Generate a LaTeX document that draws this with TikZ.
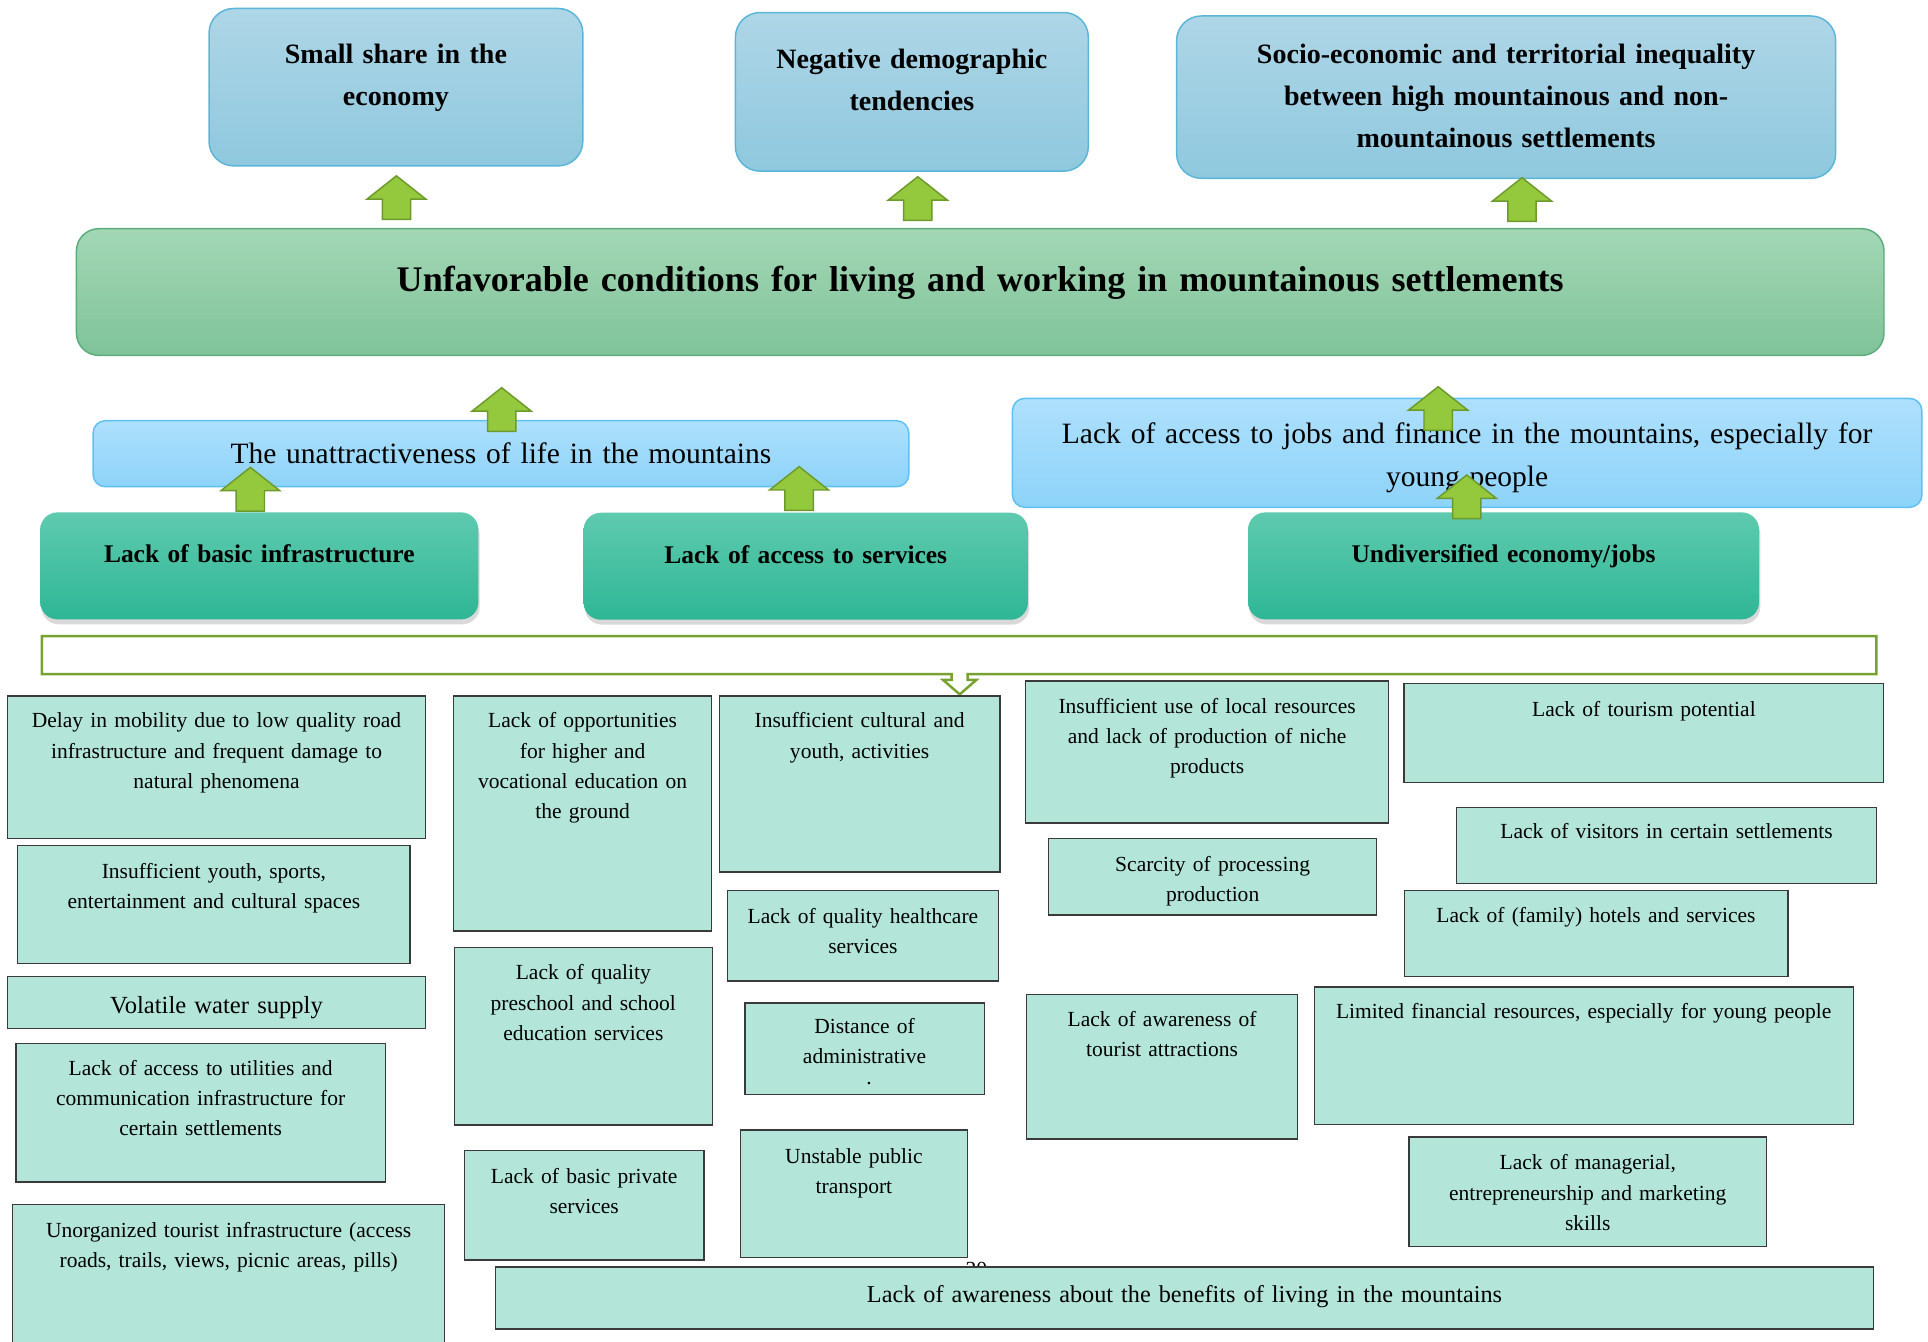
\documentclass[tikz,border=0pt]{standalone}
\usepackage{fontspec}
\setmainfont{Liberation Serif}
\usetikzlibrary{shadows}

\definecolor{topboxtop}{HTML}{AED6E7}
\definecolor{topboxbot}{HTML}{8FC8DE}
\definecolor{topboxline}{HTML}{5AB6D8}
\definecolor{mainboxtop}{HTML}{A3D7B5}
\definecolor{mainboxbot}{HTML}{7FC399}
\definecolor{mainboxline}{HTML}{5BAE7C}
\definecolor{midboxtop}{HTML}{AEE0FC}
\definecolor{midboxbot}{HTML}{8DD3F9}
\definecolor{midboxline}{HTML}{5DC1F3}
\definecolor{catboxtop}{HTML}{5FCAAF}
\definecolor{catboxbot}{HTML}{2EB795}
\definecolor{smallfill}{HTML}{B3E6D9}
\definecolor{smallline}{HTML}{3A3A3A}
\definecolor{arrowfill}{HTML}{94C83D}
\definecolor{arrowline}{HTML}{6E9A2B}
\definecolor{bracketline}{HTML}{77A22F}

\tikzset{
  topbox/.style={draw=topboxline, line width=1.2pt, rounded corners=20pt,
    top color=topboxtop, bottom color=topboxbot, inner sep=0pt},
  mainbox/.style={draw=mainboxline, line width=1.2pt, rounded corners=18pt,
    top color=mainboxtop, bottom color=mainboxbot, inner sep=0pt},
  midbox/.style={draw=midboxline, line width=1.2pt, rounded corners=10pt,
    top color=midboxtop, bottom color=midboxbot, inner sep=0pt},
  catbox/.style={rounded corners=14pt, top color=catboxtop, bottom color=catboxbot,
    inner sep=0pt, drop shadow={shadow xshift=1pt, shadow yshift=-4pt, opacity=0.3}},
  smallbox/.style={draw=smallline, line width=1pt, fill=smallfill, inner sep=0pt},
  stext/.style={text width=560pt, align=center, anchor=base, inner sep=0pt,
    font=\fontsize{17.5}{24.5}\selectfont},
  bigstext/.style={stext, text width=1100pt, font=\fontsize{19.7}{24.5}\selectfont},
  toptext/.style={stext, font=\bfseries\fontsize{22.8}{34}\selectfont},
  maintext/.style={stext, text width=1400pt, font=\bfseries\fontsize{29.3}{36}\selectfont},
  midtext/.style={stext, text width=740pt, font=\fontsize{24}{34.8}\selectfont},
  cattext/.style={stext, font=\bfseries\fontsize{20.7}{25}\selectfont},
  uparrow/.pic={
    \draw[draw=arrowline, fill=arrowfill, line width=1.2pt]
      (0,0) -- (24,19) -- (11.5,19) -- (11.5,35.5) -- (-11.5,35.5)
      -- (-11.5,19) -- (-24,19) -- cycle;
  }
}

\begin{document}
\begin{tikzpicture}[x=1pt, y=-1pt]
  \useasboundingbox (0,0) rectangle (1568,1091);
  \clip (0,0) rectangle (1568,1091);

  % consequences
  \node[topbox, minimum width=304, minimum height=128] (share) at (322,70.9) {};
  \node[toptext] (sharetext) at (322,52) {Small share in the\\economy};
  \node[topbox, minimum width=287, minimum height=129] (demo) at (741.6,74.7) {};
  \node[toptext] (demotext) at (741.6,56) {Negative demographic\\tendencies};
  \node[topbox, minimum width=536, minimum height=132] (inequal) at (1224.9,79) {};
  \node[toptext] (inequaltext) at (1224.9,52) {Socio-economic and territorial inequality\\between high mountainous and non-\\mountainous settlements};

  % central problem
  \node[mainbox, minimum width=1470, minimum height=103] (main) at (797.2,237.5) {};
  \node[maintext] (maintext) at (797.2,237) {Unfavorable conditions for living and working in mountainous settlements};

  % intermediate causes
  \node[midbox, minimum width=663.4, minimum height=53.7] (unattr) at (407.4,369) {};
  \node[midtext] (unattrtext) at (407.4,376.8) {The unattractiveness of life in the mountains};
  \node[midbox, minimum width=739.6, minimum height=88.6] (jobs) at (1193.2,368.3) {};
  \node[midtext] (jobstext) at (1193.2,360.5) {Lack of access to jobs and finance in the mountains, especially for\\young people};

  % cause groups
  \node[catbox, minimum width=356.3, minimum height=87] (infra) at (210.9,460.2) {};
  \node[cattext] (infratext) at (210.9,457.6) {Lack of basic infrastructure};
  \node[catbox, minimum width=361.4, minimum height=87] (serv) at (655.3,460.5) {};
  \node[cattext] (servtext) at (655.3,458) {Lack of access to services};
  \node[catbox, minimum width=415.6, minimum height=87] (econ) at (1222.8,460.2) {};
  \node[cattext] (econtext) at (1222.8,457.6) {Undiversified economy/jobs};

  % bracket
  \draw[draw=bracketline, line width=2pt, fill=white]
    (34,517.3) -- (1526,517.3) -- (1526,548.2) -- (787,548.2) -- (787,553)
    -- (794,553) -- (780.5,564.7) -- (767,553) -- (774,553) -- (774,548.2)
    -- (34,548.2) -- cycle;

  % infrastructure
  \node[smallbox, minimum width=339.8, minimum height=115.8] (mobility) at (176.1,623.9) {};
  \node[stext] (mobilitytext) at (176.1,592) {Delay in mobility due to low quality road\\infrastructure and frequent damage to\\natural phenomena};
  \node[smallbox, minimum width=319, minimum height=95.8] (spaces) at (174,735.6) {};
  \node[stext] (spacestext) at (174,714.3) {Insufficient youth, sports,\\entertainment and cultural spaces};
  \node[smallbox, minimum width=339.8, minimum height=42] (water) at (176.1,815.3) {};
  \node[stext, font=\fontsize{20}{24.5}\selectfont] (watertext) at (176.1,824) {Volatile water supply};
  \node[smallbox, minimum width=300.3, minimum height=112.8] (util) at (163.2,904.9) {};
  \node[stext] (utiltext) at (163.2,874.8) {Lack of access to utilities and\\communication infrastructure for\\certain settlements};
  \node[smallbox, minimum width=351.1, minimum height=140] (tourinfra) at (186,1049.5) {};
  \node[stext] (tourinfratext) at (186,1006.5) {Unorganized tourist infrastructure (access\\roads, trails, views, picnic areas, pills)};

  % services
  \node[smallbox, minimum width=210, minimum height=191.2] (higher) at (473.8,661.6) {};
  \node[stext] (highertext) at (473.8,592) {Lack of opportunities\\for higher and\\vocational education on\\the ground};
  \node[smallbox, minimum width=210.1, minimum height=144.6] (school) at (474.4,842.7) {};
  \node[stext] (schooltext) at (474.4,797) {Lack of quality\\preschool and school\\education services};
  \node[smallbox, minimum width=195, minimum height=88.9] (private) at (475.1,980.3) {};
  \node[stext] (privatetext) at (475.1,962.4) {Lack of basic private\\services};
  \node[smallbox, minimum width=228.2, minimum height=143.2] (culture) at (699.1,637.6) {};
  \node[stext] (culturetext) at (699.1,592) {Insufficient cultural and\\youth, activities};
  \node[smallbox, minimum width=220.9, minimum height=73.5] (health) at (701.8,761.1) {};
  \node[stext] (healthtext) at (701.8,751) {Lack of quality healthcare\\services};
  \node[smallbox, minimum width=194.5, minimum height=74.6] (admin) at (703.1,853) {};
  \node[stext] (admintext) at (703.1,840.4) {Distance of\\administrative};
  \node[stext] (admindot) at (706.8,882) {.};
  \node[smallbox, minimum width=184.6, minimum height=103.6] (transport) at (694.5,970.8) {};
  \node[stext] (transporttext) at (694.5,946.1) {Unstable public\\transport};

  % page number behind the last box
  \node[stext] (pagenum) at (794,1038) {20};
  \node[smallbox, minimum width=1120.5, minimum height=50.4] (aware) at (963.3,1055.6) {};
  \node[bigstext] (awaretext) at (963.3,1059) {Lack of awareness about the benefits of living in the mountains};

  % economy
  \node[smallbox, minimum width=295.3, minimum height=115.4] (local) at (981.7,611.6) {};
  \node[stext] (localtext) at (981.7,580) {Insufficient use of local resources\\and lack of production of niche\\products};
  \node[smallbox, minimum width=266.8, minimum height=62.4] (process) at (986.2,713) {};
  \node[stext] (processtext) at (986.2,708.9) {Scarcity of processing\\production};
  \node[smallbox, minimum width=220.2, minimum height=117.3] (attract) at (945.1,867.7) {};
  \node[stext] (attracttext) at (945.1,835) {Lack of awareness of\\tourist attractions};
  \node[smallbox, minimum width=390.2, minimum height=80.8] (tourism) at (1337,596.1) {};
  \node[stext] (tourismtext) at (1337,582.9) {Lack of tourism potential};
  \node[smallbox, minimum width=341.5, minimum height=61.8] (visitors) at (1355.3,687.5) {};
  \node[stext] (visitorstext) at (1355.3,681.8) {Lack of visitors in certain settlements};
  \node[smallbox, minimum width=312.1, minimum height=69.9] (hotels) at (1298,759.4) {};
  \node[stext] (hotelstext) at (1298,750.4) {Lack of (family) hotels and services};
  \node[smallbox, minimum width=438.3, minimum height=112] (finance) at (1288,858.7) {};
  \node[stext] (financetext) at (1288,828.2) {Limited financial resources, especially for young people};
  \node[smallbox, minimum width=290.7, minimum height=89.2] (skills) at (1291.3,969.3) {};
  \node[stext] (skillstext) at (1291.3,951.5) {Lack of managerial,\\entrepreneurship and marketing\\skills};

  % block arrows
  \pic at (322.4,143) {uparrow};
  \pic at (746.4,143.7) {uparrow};
  \pic at (1237.8,144.5) {uparrow};
  \pic at (408,315.3) {uparrow};
  \pic at (1169.6,314.5) {uparrow};
  \pic at (203.6,380.1) {uparrow};
  \pic at (649.9,379.5) {uparrow};
  \pic at (1192.9,386.3) {uparrow};
\end{tikzpicture}
\end{document}
